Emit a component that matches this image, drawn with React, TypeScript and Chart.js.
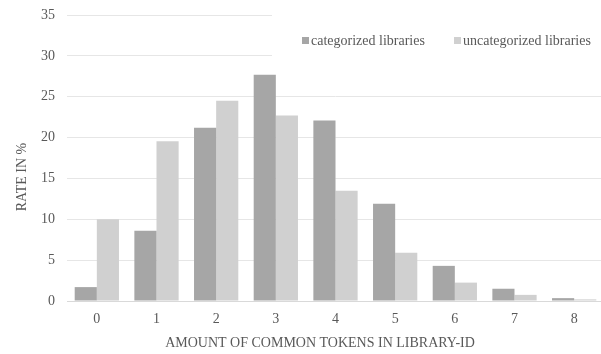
import React, { useEffect, useRef } from "react";
import { Chart, registerables } from "chart.js";

Chart.register(...registerables);

const categories = ["0", "1", "2", "3", "4", "5", "6", "7", "8"];
const categorized = [1.7, 8.6, 21.2, 27.7, 22.1, 11.9, 4.3, 1.5, 0.35];
const uncategorized = [10.0, 19.55, 24.5, 22.7, 13.5, 5.9, 2.25, 0.75, 0.2];
const seriesNames = ["categorized libraries", "uncategorized libraries"];
const seriesColors = ["#a6a6a6", "#d0d0d0"];
const xTitle = "AMOUNT OF COMMON TOKENS IN LIBRARY-ID";
const yTitle = "RATE IN %";

const FONT = "'Liberation Serif', 'Times New Roman', serif";
const TEXT = "#595959";

// Axis titles and the in-plot legend box
const decorations = {
  id: "decorations",
  beforeDatasetsDraw(chart: Chart) {
    // legend background hides the gridlines behind it
    const { ctx } = chart;
    ctx.save();
    ctx.fillStyle = "#ffffff";
    ctx.fillRect(272, 0, chart.width - 272, 70);
    ctx.restore();
  },
  afterDraw(chart: Chart) {
    const { ctx } = chart;
    ctx.save();
    ctx.fillStyle = TEXT;
    ctx.font = `14px ${FONT}`;
    ctx.textAlign = "center";
    ctx.textBaseline = "middle";
    ctx.fillText(xTitle, 320, 343);

    ctx.save();
    ctx.translate(22, 177);
    ctx.rotate(-Math.PI / 2);
    ctx.fillText(yTitle, 0, 0);
    ctx.restore();

    const items = [
      { x: 302, tx: 311 },
      { x: 454, tx: 463 },
    ];
    ctx.textAlign = "left";
    items.forEach((it, i) => {
      ctx.fillStyle = seriesColors[i];
      ctx.fillRect(it.x, 37, 7, 7);
      ctx.fillStyle = TEXT;
      ctx.fillText(seriesNames[i], it.tx, 41);
    });
    ctx.restore();
  },
};

export default function App() {
  const ref = useRef<HTMLCanvasElement>(null);

  useEffect(() => {
    if (!ref.current) return;
    const chart = new Chart(ref.current, {
      type: "bar",
      data: {
        labels: categories,
        datasets: [
          {
            label: seriesNames[0],
            data: categorized,
            backgroundColor: seriesColors[0],
            categoryPercentage: 0.742,
            barPercentage: 1,
          },
          {
            label: seriesNames[1],
            data: uncategorized,
            backgroundColor: seriesColors[1],
            categoryPercentage: 0.742,
            barPercentage: 1,
          },
        ],
      },
      options: {
        responsive: false,
        animation: false,
        layout: { padding: { top: 15, right: 0, left: 0, bottom: 0 } },
        plugins: {
          legend: { display: false },
          tooltip: { enabled: false },
        },
        scales: {
          x: {
            grid: { display: false, drawTicks: false },
            border: { display: true, color: "#d9d9d9" },
            ticks: {
              color: TEXT,
              font: { family: FONT, size: 14 },
              padding: 10,
            },
            afterFit(axis: any) {
              axis.height = 53;
              axis.paddingLeft = 0;
              axis.paddingRight = 0;
            },
          },
          y: {
            min: 0,
            max: 35,
            grid: { color: "#e6e6e6", drawTicks: false },
            border: { display: false },
            ticks: {
              stepSize: 5,
              color: TEXT,
              font: { family: FONT, size: 14 },
              padding: 12,
            },
            afterFit(axis: any) {
              axis.width = 67;
              axis.paddingTop = 0;
              axis.paddingBottom = 0;
            },
          },
        },
      },
      plugins: [decorations],
    });
    return () => chart.destroy();
  }, []);

  return (
    <div
      style={{
        position: "fixed",
        left: 0,
        top: 0,
        width: 601,
        height: 354,
        overflow: "hidden",
        background: "#fff",
      }}
    >
      <canvas ref={ref} width={604} height={354} />
    </div>
  );
}
